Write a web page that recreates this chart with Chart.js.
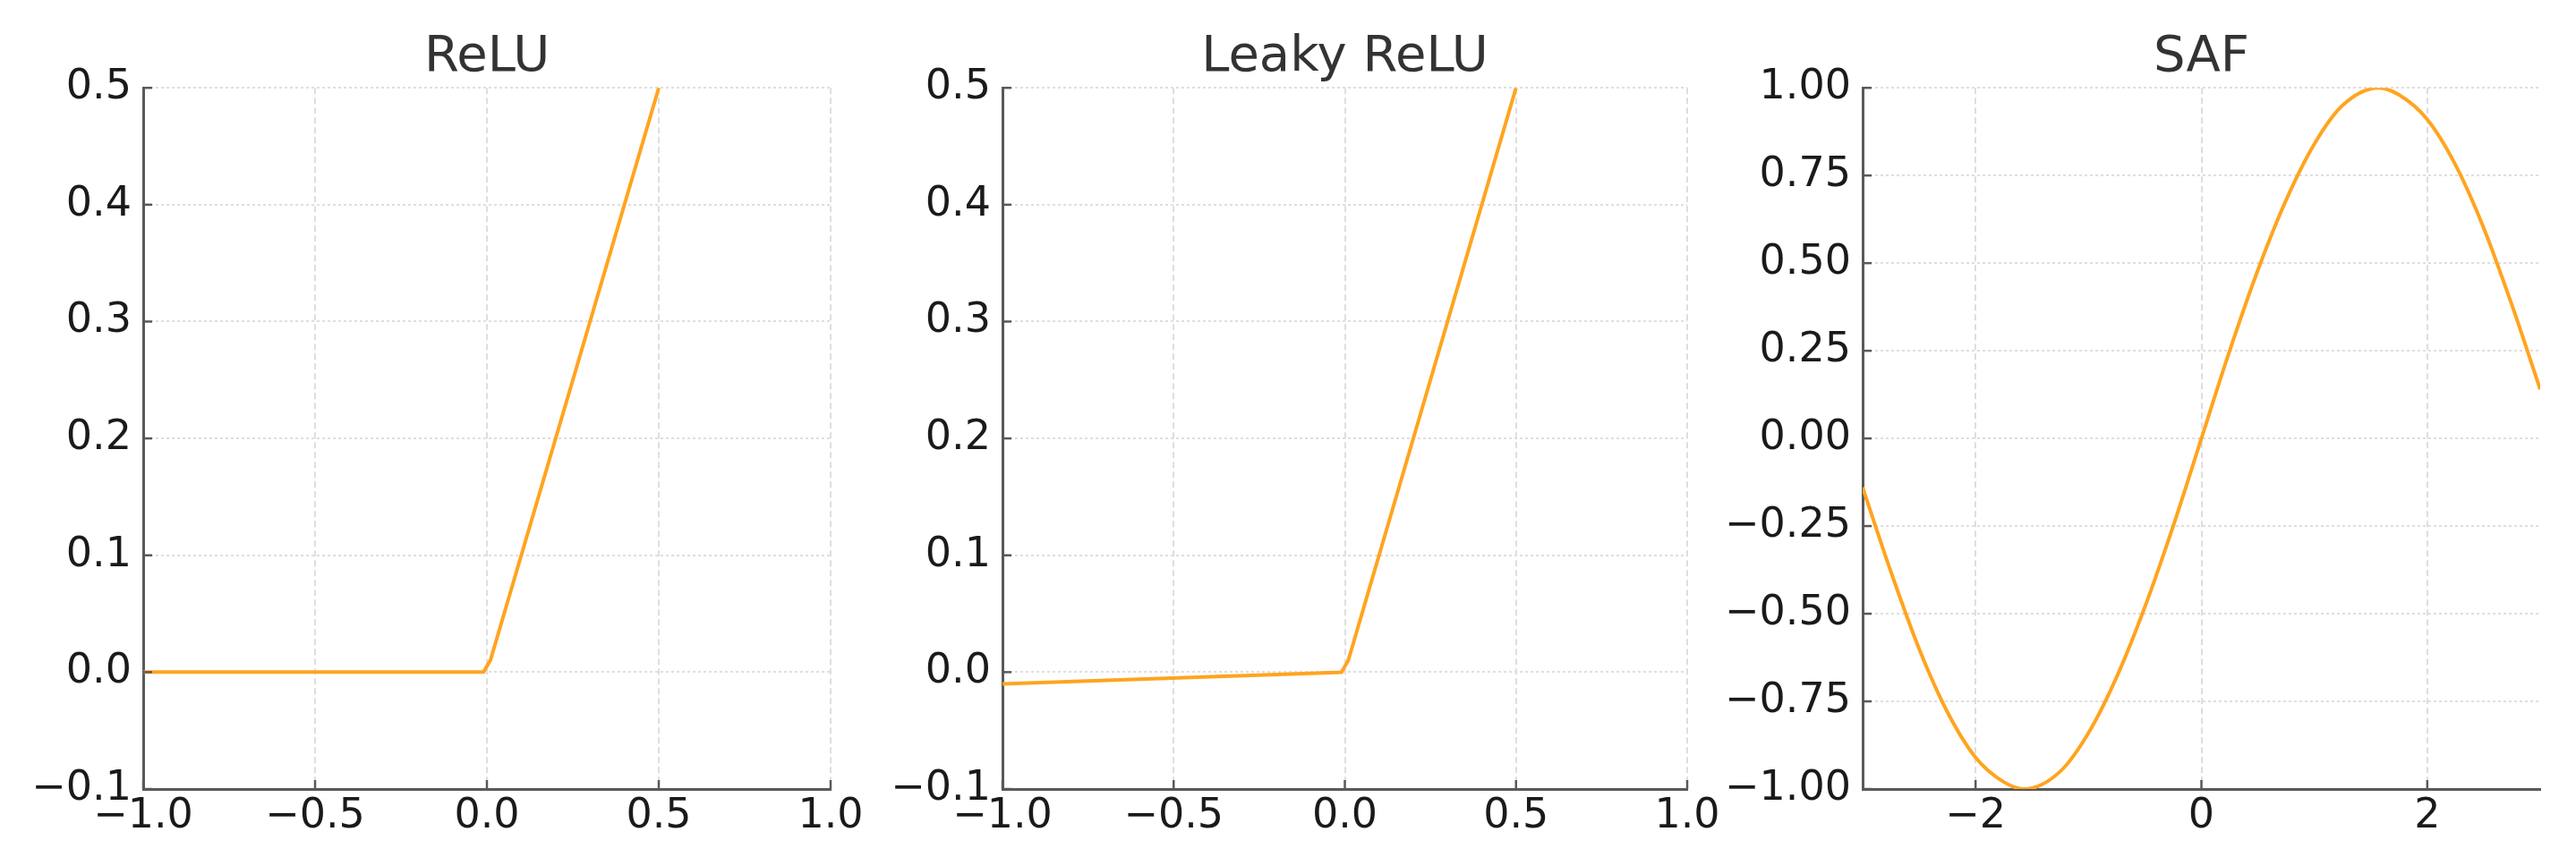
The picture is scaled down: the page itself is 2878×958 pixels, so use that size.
<!DOCTYPE html>
<html>
<head>
<meta charset="utf-8">
<title>Activation functions</title>
<script src="https://cdn.jsdelivr.net/npm/chart.js@4/dist/chart.umd.min.js"></script>
<style>
    html, body { margin: 0; padding: 0; background: #fff; }
    body { width: 2878px; height: 958px; position: relative; overflow: hidden; }
    .panel { position: absolute; top: 0; height: 958px; }
</style>
</head>
<body>
<div class="panel" style="left:0px;width:968px"><canvas id="reluChart"></canvas></div>
<div class="panel" style="left:960px;width:965px"><canvas id="leakyChart"></canvas></div>
<div class="panel" style="left:1921px;width:957px"><canvas id="safChart"></canvas></div>

<script>
// values
const reluX = [-1.0, -0.01, 0.01, 0.5];
const reluY = [0.0, 0.0, 0.01, 0.5];

const leakyX = [-1.0, -0.01, 0.01, 0.5];
const leakyY = [-0.01, -0.0001, 0.01, 0.5];

const safX = [-3, -2.75, -2.5, -2.25, -2, -1.75, -1.57, -1.25, -1, -0.75, -0.5, -0.25, 0,
              0.25, 0.5, 0.75, 1, 1.25, 1.57, 1.75, 2, 2.25, 2.5, 2.75, 3];
const safY = [-0.14, -0.38, -0.60, -0.78, -0.91, -0.98, -1.00, -0.95, -0.84, -0.68, -0.48, -0.25, 0.00,
              0.25, 0.48, 0.68, 0.84, 0.95, 1.00, 0.98, 0.91, 0.78, 0.60, 0.38, 0.14];

const reluXTicks = [-1.0, -0.5, 0.0, 0.5, 1.0];
const reluYTicks = [-0.1, 0.0, 0.1, 0.2, 0.3, 0.4, 0.5];
const safXTicks = [-2, 0, 2];
const safYTicks = [-1.0, -0.75, -0.5, -0.25, 0.0, 0.25, 0.5, 0.75, 1.0];
const safXRange = [-3, 3];

const FONT = "'DejaVu Sans', sans-serif";
const AXIS_COLOR = '#595959';
const GRID_COLOR = '#dedede';
const LINE_COLOR = '#ffa41f';

function fmt(v, decimals) {
    const s = Math.abs(v).toFixed(decimals);
    return (v < 0 && Number(s) !== 0 ? '\u2212' : '') + s;
}

// matplotlib-like inward tick marks
const innerTicks = {
    id: 'innerTicks',
    afterDraw(chart) {
        const ctx = chart.ctx;
        const area = chart.chartArea;
        ctx.save();
        ctx.strokeStyle = AXIS_COLOR;
        ctx.lineWidth = 2.5;
        ctx.setLineDash([]);
        const xs = chart.scales.x, ys = chart.scales.y;
        xs.ticks.forEach(t => {
            const px = xs.getPixelForValue(t.value);
            ctx.beginPath();
            ctx.moveTo(px, area.bottom);
            ctx.lineTo(px, area.bottom - 10);
            ctx.stroke();
        });
        ys.ticks.forEach(t => {
            const py = ys.getPixelForValue(t.value);
            ctx.beginPath();
            ctx.moveTo(area.left, py);
            ctx.lineTo(area.left + 10, py);
            ctx.stroke();
        });
        ctx.restore();
    }
};

function makePanel(id, title, xs, ys, xRange, xTicks, yTicks, xDec, yDec, smooth) {
    const points = xs.map((x, i) => ({ x: x, y: ys[i] }));
    return new Chart(document.getElementById(id), {
        type: 'line',
        data: {
            datasets: [{
                data: points,
                borderColor: LINE_COLOR,
                borderWidth: 4,
                pointRadius: 0,
                tension: 0,
                cubicInterpolationMode: smooth ? 'monotone' : 'default',
                fill: false
            }]
        },
        options: {
            responsive: true,
            maintainAspectRatio: false,
            animation: false,
            layout: { padding: { left: 0, right: 40, top: 0, bottom: 0 } },
            plugins: {
                legend: { display: false },
                tooltip: { enabled: false },
                title: {
                    display: true,
                    text: title,
                    fullSize: false,
                    color: '#333333',
                    font: { family: FONT, size: 56, weight: 'normal' },
                    padding: { top: 31, bottom: 0 }
                }
            },
            scales: {
                x: {
                    type: 'linear',
                    min: xRange[0],
                    max: xRange[1],
                    afterBuildTicks: s => { s.ticks = xTicks.map(v => ({ value: v })); },
                    afterFit: s => { s.height = 76; },
                    grid: { color: GRID_COLOR, lineWidth: 2, drawTicks: false },
                    border: { display: true, color: AXIS_COLOR, width: 3, dash: [7, 4] },
                    ticks: {
                        color: '#1a1a1a',
                        padding: 3,
                        maxRotation: 0,
                        font: { family: FONT, size: 46 },
                        callback: v => fmt(v, xDec)
                    }
                },
                y: {
                    type: 'linear',
                    min: yTicks[0],
                    max: yTicks[yTicks.length - 1],
                    afterBuildTicks: s => { s.ticks = yTicks.map(v => ({ value: v })); },
                    afterFit: s => { s.width = 160; },
                    grid: { color: GRID_COLOR, lineWidth: 2, drawTicks: false },
                    border: { display: true, color: AXIS_COLOR, width: 3, dash: [3, 3] },
                    ticks: {
                        color: '#1a1a1a',
                        padding: 13,
                        font: { family: FONT, size: 46 },
                        callback: v => fmt(v, yDec)
                    }
                }
            }
        },
        plugins: [innerTicks]
    });
}

const reluXRange = [reluXTicks[0], reluXTicks[reluXTicks.length - 1]];
makePanel('reluChart', 'ReLU', reluX, reluY, reluXRange, reluXTicks, reluYTicks, 1, 1, false);
makePanel('leakyChart', 'Leaky ReLU', leakyX, leakyY, reluXRange, reluXTicks, reluYTicks, 1, 1, false);
makePanel('safChart', 'SAF', safX, safY, safXRange, safXTicks, safYTicks, 0, 2, true);
</script>
</body>
</html>
